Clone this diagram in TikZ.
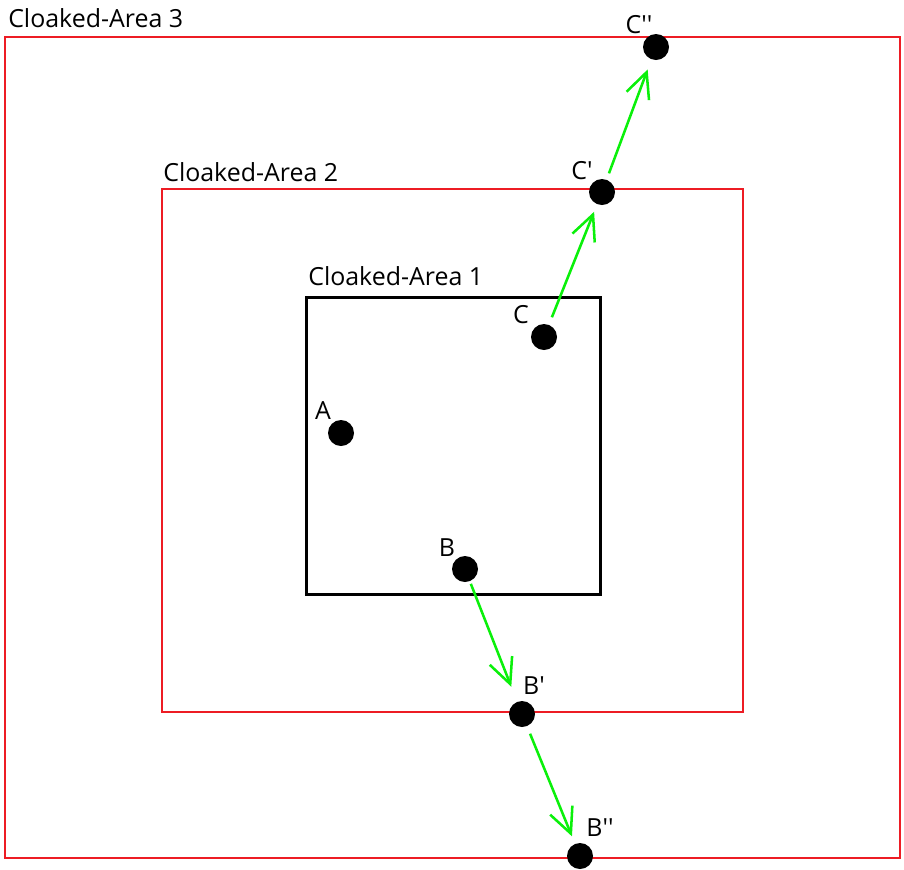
\documentclass[tikz,border=0pt]{standalone}
\usepackage{fontspec}
\setmainfont{Open Sans}
\usetikzlibrary{arrows.meta}
\definecolor{areared}{RGB}{237,28,36}
\definecolor{movegreen}{RGB}{10,240,10}
\newcommand{\pr}{\textquotesingle}
\tikzset{
  area/.style={draw=areared, line width=1.6pt},
  core area/.style={draw=black, line width=2.25pt},
  dot/.style={circle, fill=black, inner sep=0pt, minimum size=19.5pt},
  tag/.style={font=\fontsize{18.7}{22}\selectfont, inner sep=0pt},
  move/.style={draw=movegreen, line width=1.9pt, -{Straight Barb[length=19pt,width=18pt]}, shorten <=6pt, shorten >=6pt}
}
\begin{document}
\begin{tikzpicture}[x=0.75pt,y=-0.75pt]
  \useasboundingbox (0,0) rectangle (904,869);
  \draw[area] (5,37) rectangle (900,858);
  \draw[area] (162,189) rectangle (743,712);
  \draw[core area] (306,297) rectangle (600,594);
  \node[tag, anchor=base west] (area3) at (8,27) {Cloaked-Area 3};
  \node[tag, anchor=base west] (area2) at (163,181) {Cloaked-Area 2};
  \node[tag, anchor=base west] (area1) at (308,285) {Cloaked-Area 1};

  \node[dot] (A) at (341,433) {};
  \node[dot] (B) at (465,569) {};
  \node[dot] (Bp) at (522,714) {};
  \node[dot] (Bpp) at (580,856) {};
  \node[dot] (C) at (544,337) {};
  \node[dot] (Cp) at (602,192) {};
  \node[dot] (Cpp) at (656,47) {};

  \node[tag] (labA) at (323,411) {A};
  \node[tag] (labB) at (447,548) {B};
  \node[tag] (labBp) at (534,686) {B\pr};
  \node[tag] (labBpp) at (600,828) {B\pr\pr};
  \node[tag] (labC) at (521,315) {C};
  \node[tag] (labCp) at (582,171) {C\pr};
  \node[tag] (labCpp) at (639,25) {C\pr\pr};

  \draw[move] (C) -- (Cp);
  \draw[move, shorten <=5pt, shorten >=8pt] (Cp) -- (Cpp);
  \draw[move, shorten <=2pt, shorten >=12pt] (B) -- (Bp);
  \draw[move] (Bp) -- (Bpp);
\end{tikzpicture}
\end{document}
